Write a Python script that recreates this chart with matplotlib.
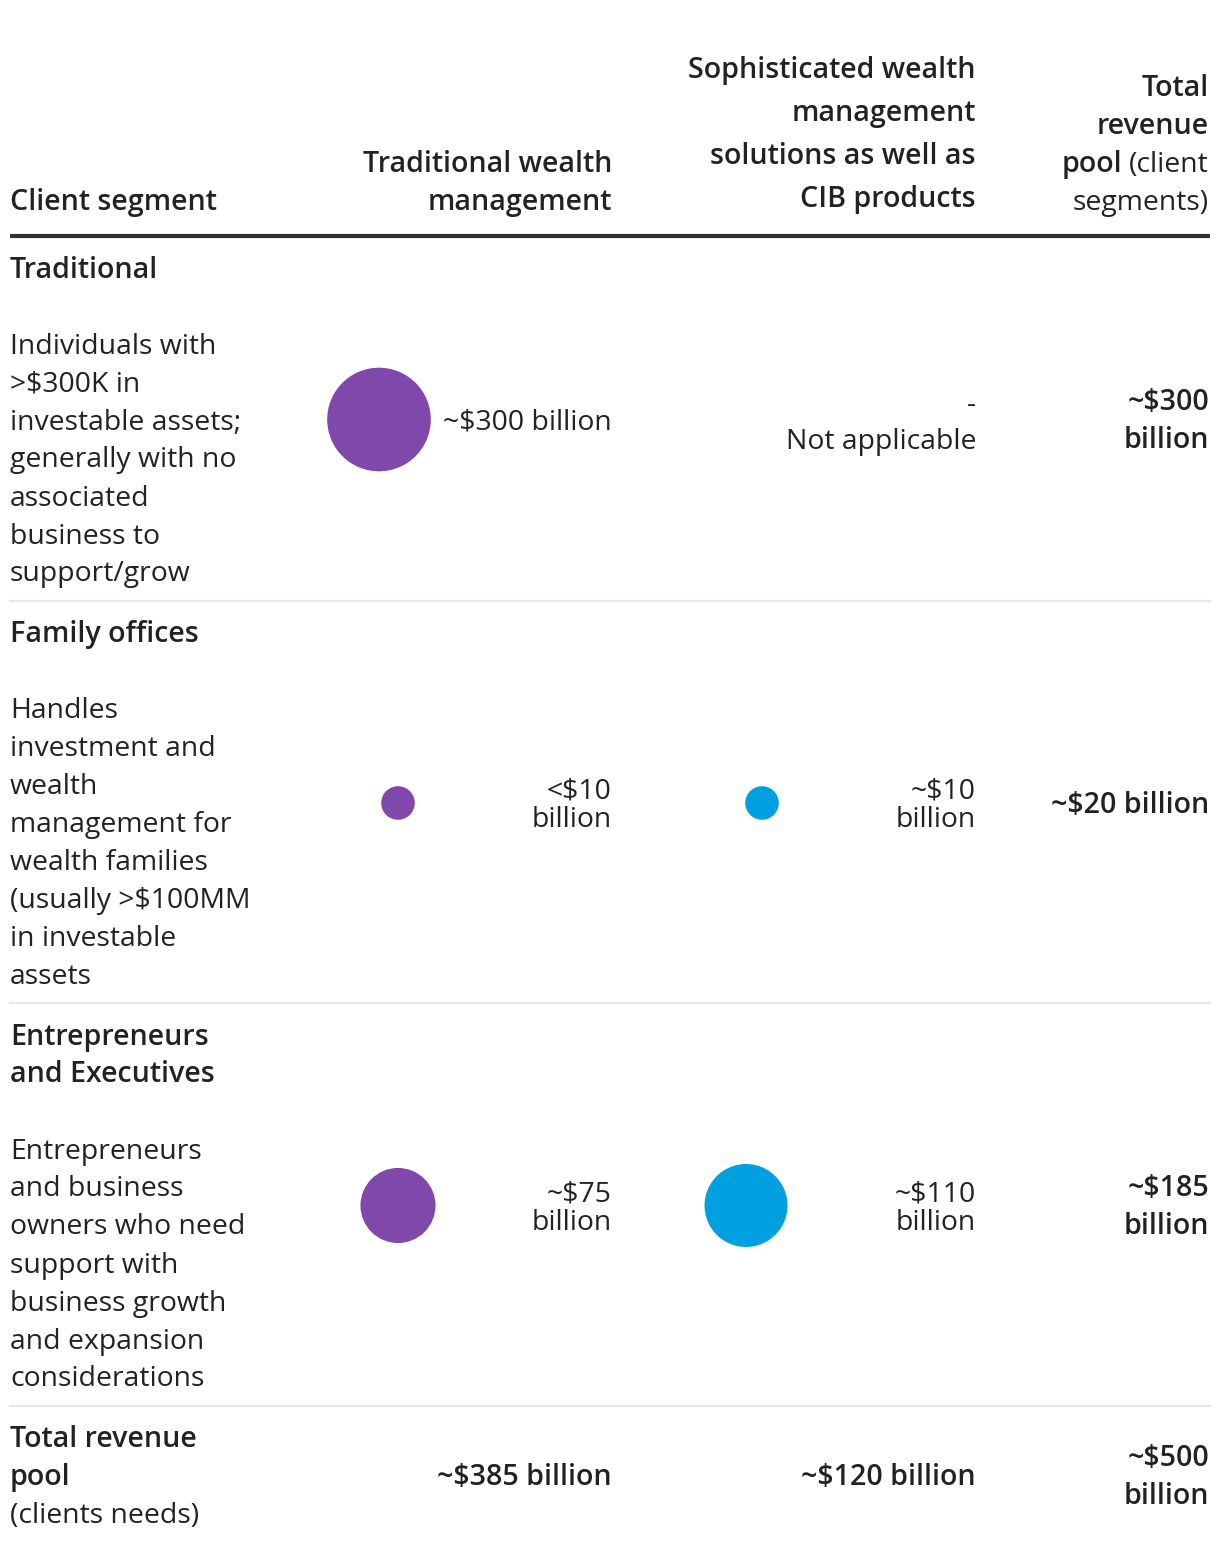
import math

import matplotlib.pyplot as plt
from matplotlib import font_manager
from matplotlib.patches import Circle

# ---- data -------------------------------------------------------------
SEGMENTS = [["Traditional"], ["Family offices"], ["Entrepreneurs", "and Executives"]]
DESCRIPTIONS = [
    ["Individuals with", ">$300K in", "investable assets;", "generally with no",
     "associated", "business to", "support/grow"],
    ["Handles", "investment and", "wealth", "management for", "wealth families",
     "(usually >$100MM", "in investable", "assets"],
    ["Entrepreneurs", "and business", "owners who need", "support with",
     "business growth", "and expansion", "considerations"],
]
TRAD_VALUES = [300, 10, 75]
TRAD_LABELS = [["~$300 billion"], ["<$10", "billion"], ["~$75", "billion"]]
CIB_VALUES = [None, 10, 110]
CIB_LABELS = [["-", "Not applicable"], ["~$10", "billion"], ["~$110", "billion"]]
SEGMENT_TOTALS = [["~$300", "billion"], ["~$20 billion"], ["~$185", "billion"]]
TOTAL_ROW_TITLE = ["Total revenue", "pool"]
TOTAL_ROW_NOTE = "(clients needs)"
COLUMN_TOTALS = ["~$385 billion", "~$120 billion"]
GRAND_TOTAL = ["~$500", "billion"]

HEAD_SEGMENT = "Client segment"
HEAD_TRAD = ["Traditional wealth", "management"]
HEAD_CIB = ["Sophisticated wealth", "management", "solutions as well as", "CIB products"]
HEAD_TOTAL = ["Total", "revenue"]  # followed by mixed "pool (client" / "segments)"

# ---- style / layout ---------------------------------------------------
TEXT = "#222222"
PURPLE = "#8048AA"
BLUE = "#009FDF"
FS_REG = 20.4
FS_BOLD = 20.6
LH = 38
BASE = 10  # baseline offset from visual line centre (px)
X_LEFT, X_TRAD, X_CIB, X_TOT, X_END = 10, 612, 976, 1209, 1210
BUBBLE_X = {("t", 0): 379, ("t", 1): 398, ("t", 2): 398, ("c", 1): 762, ("c", 2): 746}


def pick_family():
    # prefer a humanist sans that actually ships a bold face
    for fam in ("Noto Sans", "Open Sans", "Lato", "Roboto"):
        weights = [f.weight for f in font_manager.fontManager.ttflist if f.name == fam]
        if any((w if isinstance(w, int) else 700 if "bold" in str(w) else 400) >= 600
               for w in weights):
            return fam
    return "DejaVu Sans"


plt.rcParams["font.family"] = [pick_family(), "DejaVu Sans"]

fig = plt.figure(figsize=(12.2, 15.52), dpi=100)
ax = fig.add_axes([0, 0, 1, 1])
ax.set_xlim(0, 1220)
ax.set_ylim(1552, 0)
ax.axis("off")


def put(x, yc, s, ha="left", bold=False):
    return ax.text(x, yc + BASE, s, ha=ha, va="baseline",
                   fontsize=FS_BOLD if bold else FS_REG, color=TEXT,
                   fontweight="semibold" if bold else "normal")


def lines(x, first, items, ha="left", bold=False, step=LH):
    for i, s in enumerate(items):
        put(x, first + i * step, s, ha=ha, bold=bold)


def centred(x, mid, items, ha="right", bold=False, step=LH):
    first = mid - (len(items) - 1) * step / 2
    lines(x, first, items, ha=ha, bold=bold, step=step)


def radius(v):
    # bubble radius grows with log of the value
    return 23.7 * math.log10(v) - 6.9


# ---- header -----------------------------------------------------------
put(X_LEFT, 200, HEAD_SEGMENT, bold=True)
lines(X_TRAD, 162, HEAD_TRAD, ha="right", bold=True)
lines(X_CIB, 68, HEAD_CIB, ha="right", bold=True, step=43)
lines(X_TOT, 86, HEAD_TOTAL, ha="right", bold=True)
t = put(X_TOT, 162, "(client", ha="right")
fig.canvas.draw()
bb = t.get_window_extent(renderer=fig.canvas.get_renderer())
put(bb.x0 - 7, 162, "pool", ha="right", bold=True)
put(X_TOT, 200, "segments)", ha="right")
ax.plot([X_LEFT, X_END], [236, 236], color="#333333", lw=3, solid_capstyle="butt")

# ---- segment rows -----------------------------------------------------
top = 236
for i in range(len(SEGMENTS)):
    title_y = top + 31.5
    lines(X_LEFT, title_y, SEGMENTS[i], bold=True)
    desc_y = title_y + (len(SEGMENTS[i]) - 1) * LH + 76
    lines(X_LEFT, desc_y, DESCRIPTIONS[i])
    last = desc_y + (len(DESCRIPTIONS[i]) - 1) * LH
    mid = (title_y + last) / 2

    for key, vals, labs, xr, col in (("t", TRAD_VALUES, TRAD_LABELS, X_TRAD, PURPLE),
                                     ("c", CIB_VALUES, CIB_LABELS, X_CIB, BLUE)):
        v = vals[i]
        if v is None:
            centred(xr, mid + 1, labs[i])
            continue
        ax.add_patch(Circle((BUBBLE_X[(key, i)], mid), radius(v), color=col, lw=0))
        centred(xr, mid, labs[i], step=28)

    centred(X_TOT, mid, SEGMENT_TOTALS[i], bold=True)

    top = last + 29
    ax.plot([X_LEFT, X_END], [top, top], color="#E6E6E6", lw=1.5)

# ---- total row --------------------------------------------------------
title_y = top + 31.5
lines(X_LEFT, title_y, TOTAL_ROW_TITLE, bold=True)
put(X_LEFT, title_y + 2 * LH, TOTAL_ROW_NOTE)
mid = title_y + LH
put(X_TRAD, mid, COLUMN_TOTALS[0], ha="right", bold=True)
put(X_CIB, mid, COLUMN_TOTALS[1], ha="right", bold=True)
centred(X_TOT, mid, GRAND_TOTAL, bold=True)

fig.savefig("out.png", dpi=100, facecolor="white")
